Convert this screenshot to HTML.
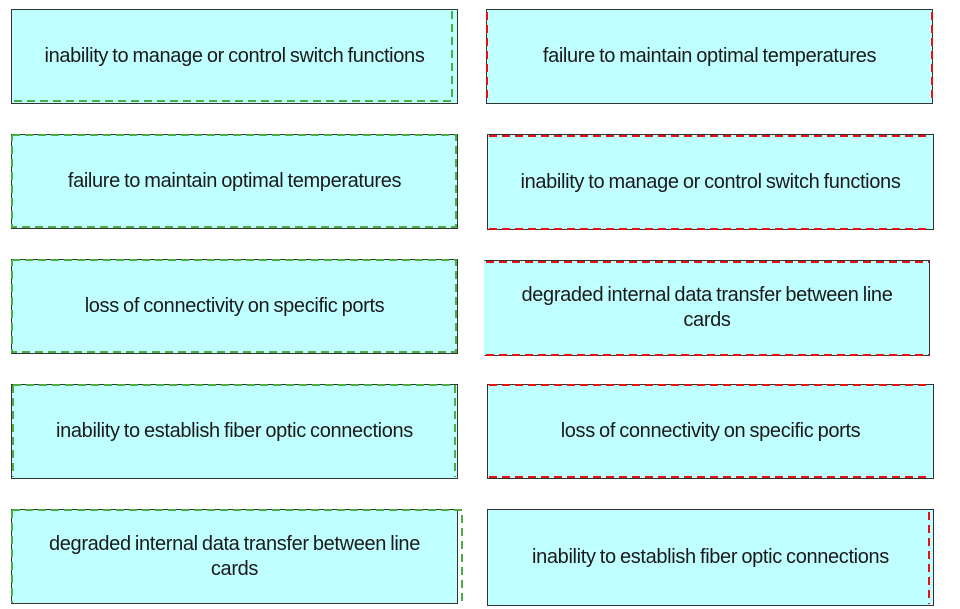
<!DOCTYPE html>
<html><head><meta charset="utf-8"><style>
body{margin:0;width:960px;height:609px;background:#fff;position:relative;overflow:hidden;font-family:"Liberation Sans",sans-serif;}
.b{position:absolute;box-sizing:border-box;background:#bfffff;border:1.5px solid #333;display:flex;align-items:center;justify-content:center;text-align:center;font-size:20px;color:#1a1a1a;line-height:25px;padding:0 10px;letter-spacing:-0.35px;word-spacing:-1px}
svg{position:absolute;left:0;top:0}
</style></head><body>
<div class="b" style="left:11px;top:9px;width:447px;height:95px">inability to manage or control switch functions</div>
<div class="b" style="left:11px;top:134px;width:447px;height:95px">failure to maintain optimal temperatures</div>
<div class="b" style="left:11px;top:259px;width:447px;height:95px">loss of connectivity on specific ports</div>
<div class="b" style="left:11px;top:384px;width:447px;height:95px">inability to establish fiber optic connections</div>
<div class="b" style="left:11px;top:509px;width:447px;height:95px">degraded internal data transfer between line<br>cards</div>

<div class="b" style="left:486px;top:9px;width:447px;height:95px">failure to maintain optimal temperatures</div>
<div class="b" style="left:487px;top:134px;width:447px;height:96px">inability to manage or control switch functions</div>
<div class="b" style="left:484px;top:260px;width:446px;height:96px;border-left-color:transparent">degraded internal data transfer between line<br>cards</div>
<div class="b" style="left:487px;top:384px;width:447px;height:95px">loss of connectivity on specific ports</div>
<div class="b" style="left:487px;top:509px;width:447px;height:97px">inability to establish fiber optic connections</div>

<svg width="960" height="609" fill="none" stroke-width="2" stroke-dasharray="8 5">
<g stroke="#4aae44">
<path d="M452 11V101H12"/>
<path d="M12 135H456V227H12V135"/>
<path d="M12 260H456V352H12V260"/>
<path d="M13 385H455V477M13 385V477"/>
<path d="M12 510H462V603M12 510V603"/>
</g>
<g stroke="#e81010">
<path d="M487 12V100M932 12V100"/>
<path d="M489 136H931M489 229H931"/>
<path d="M486 262H929M486 355H929"/>
<path d="M489 385H931M489 477H931"/>
<path d="M929 512V604"/>
</g>
</svg>
</body></html>
